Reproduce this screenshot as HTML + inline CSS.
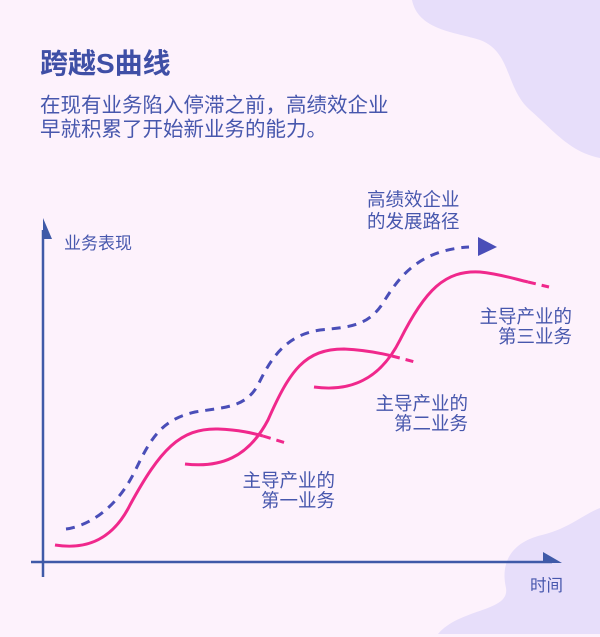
<!DOCTYPE html>
<html><head><meta charset="utf-8"><style>
body{margin:0;width:600px;height:637px;overflow:hidden;background:#fdf2fc;}
svg{display:block}
text{font-family:"Liberation Sans","Noto Sans CJK SC",sans-serif;}
</style></head><body>
<svg width="600" height="637" viewBox="0 0 600 637" xmlns="http://www.w3.org/2000/svg">
<rect width="600" height="637" fill="#fdf2fc"/>
<path d="M412 0 C418 30 455 32 480 40 C512 52 505 88 530 110 C555 132 570 152 600 158 L600 0Z" fill="#e7defa"/>
<path d="M438 634 C460 608 510 612 506 588 C500 562 512 542 542 535 C570 528 582 515 600 508 L600 634Z" fill="#e7defa"/>
<text x="40" y="73" font-size="28" font-weight="bold" fill="#3f4fa6">跨越S曲线</text>
<text x="40" y="112" font-size="20.5" fill="#4757ad">在现有业务陷入停滞之前，高绩效企业</text>
<text x="40" y="136" font-size="20.5" fill="#4757ad">早就积累了开始新业务的能力。</text>
<text x="367" y="206" font-size="18.5" fill="#4757ad">高绩效企业</text>
<text x="367" y="228" font-size="18.5" fill="#4757ad">的发展路径</text>
<text x="64" y="249" font-size="17" fill="#4757ad">业务表现</text>
<text x="530" y="591" font-size="16.5" fill="#4757ad">时间</text>
<g font-size="18.5" fill="#4757ad" text-anchor="end">
<text x="572" y="323">主导产业的</text><text x="572" y="343">第三业务</text>
<text x="468" y="410">主导产业的</text><text x="468" y="430">第二业务</text>
<text x="335" y="487">主导产业的</text><text x="335" y="507">第一业务</text>
</g>
<!-- axes -->
<line x1="43" y1="230" x2="43" y2="577" stroke="#3f5aa8" stroke-width="2.5"/>
<polygon points="43,218 52,239 43,239" fill="#3f5aa8"/>
<line x1="31" y1="562" x2="552" y2="562" stroke="#3f5aa8" stroke-width="2.5"/>
<polygon points="562,563 543,552 543,563" fill="#3f5aa8"/>
<!-- blue dashed -->
<path d="M66 529 C75 528 110 520 134 473 C150 440 160 420 195 412 C225 407 245 408 258 385 C270 360 285 335 320 330 C350 327 368 326 383 303 C400 275 420 250 469 247" fill="none" stroke="#4a4eb8" stroke-width="3" stroke-dasharray="9 7"/>
<polygon points="478,237 497,247 478,256" fill="#4a4eb8"/>
<!-- pink curves -->
<g fill="none" stroke="#f0288c" stroke-width="3">
<path d="M55 545 C80 549 110 545 130 505 C160 450 180 428 218 429 C240 430 252 433 263 436"/>
<path d="M263 436 L289 444" stroke-dasharray="8 6"/>
<path d="M185 464 C220 468 248 458 268 420 C290 370 305 349 344 349 C365 350 380 353 392 356"/>
<path d="M392 356 L419 363" stroke-dasharray="8 6"/>
<path d="M314 387 C350 392 380 380 400 340 C425 290 445 270 480 272 C500 274 515 279 528 282"/>
<path d="M528 282 L549 287" stroke-dasharray="8 6"/>
</g>
</svg>
</body></html>
